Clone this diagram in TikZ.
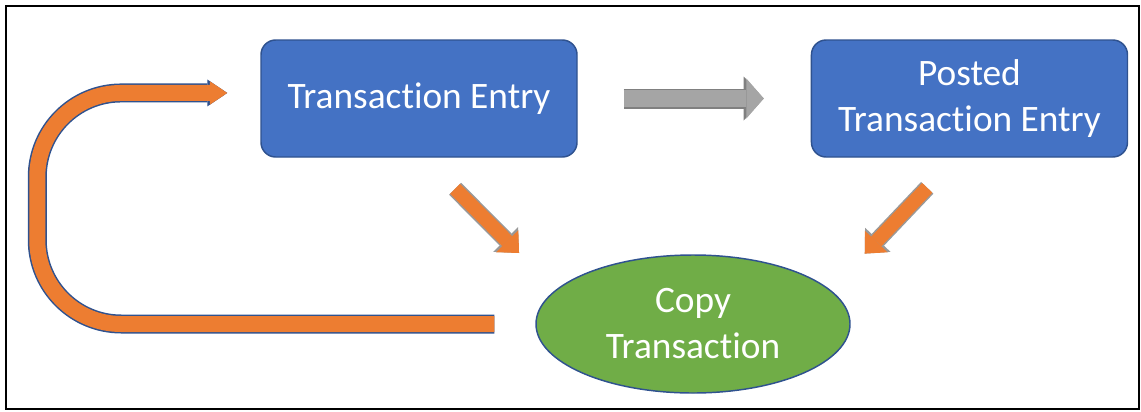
\documentclass[tikz,border=0pt]{standalone}
\usepackage{fontspec}
\setmainfont{Carlito}[Ligatures=NoCommon]
\usetikzlibrary{arrows.meta,positioning,calc,shapes.geometric}

\definecolor{boxblue}{HTML}{4472C4}
\definecolor{boxline}{HTML}{2F528F}
\definecolor{copygreen}{HTML}{70AD47}
\definecolor{arroworange}{HTML}{ED7D31}
\definecolor{arrowgray}{HTML}{A5A5A5}
\definecolor{grayline}{HTML}{808080}

\begin{document}
\begin{tikzpicture}[
        x=0.75pt, y=-0.75pt,
        node distance=174.75pt,
        every node/.style={text=white, align=center, font=\fontsize{28}{34.5}\selectfont},
        entry/.style={
            rectangle, rounded corners=11pt, draw=boxline, line width=1.1pt,
            fill=boxblue, minimum width=237pt, minimum height=87.75pt, inner sep=0pt
        },
        copystep/.style={
            ellipse, draw=boxline, line width=1.1pt, fill=copygreen,
            minimum width=235.5pt, minimum height=103.5pt, inner sep=0pt
        },
        grayarrow/.style={
            draw=arrowgray, line width=12.75pt, -{Triangle[length=13pt,width=30pt,line width=0pt]},
            preaction={draw=grayline, line width=15pt, -{Triangle[length=15pt,width=33pt,line width=0pt]}}
        },
        downarrow/.style={
            draw=arroworange, line width=10.5pt, -{Triangle[length=12.5pt,width=23.5pt,line width=0pt]},
            preaction={draw=grayline!80, line width=12.75pt, -{Triangle[length=14.25pt,width=26.25pt,line width=0pt]}}
        },
        looparrow/.style={
            draw=arroworange, line width=12pt, -{Triangle[length=13pt,width=17.5pt,line width=0pt]},
            preaction={draw=boxline, line width=14.25pt, -{Triangle[length=15pt,width=20.25pt,line width=0pt]}}
        }
    ]
    \useasboundingbox (0,0) rectangle (1141,411);
    \draw[black, line width=1.5pt] (6,6) rectangle (1139,409);

    \node[entry] (te) at (419,98.5) {Transaction Entry};
    \node[entry] (pte) [right=of te] {Posted\\Transaction Entry};
    \node[copystep] (copy) at (693,324) {Copy\\Transaction};

    \draw[grayarrow, shorten <=34.5pt, shorten >=35.25pt] (te) -- (pte);
    \draw[downarrow, shorten <=32.9pt, shorten >=38.9pt] (te.-85) -- (copy.166);
    \draw[downarrow, shorten <=31.1pt, shorten >=37.4pt] (pte.-103) -- (copy.14.5);
    \draw[looparrow, rounded corners=63pt, shorten <=30.75pt, shorten >=24.75pt]
        (copy.west) -- ++(-498,0) |- (te.178);
\end{tikzpicture}
\end{document}
